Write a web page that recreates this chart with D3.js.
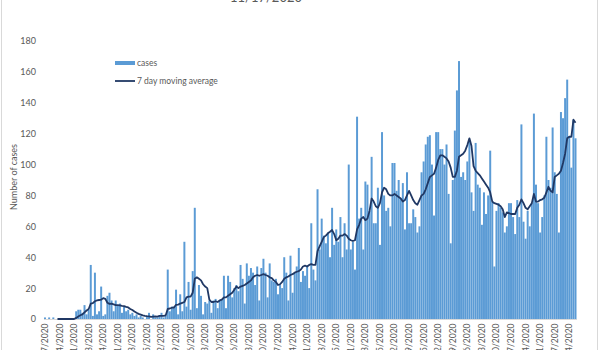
<!DOCTYPE html>
<html>
<head>
<meta charset="utf-8">
<script src="https://cdn.jsdelivr.net/npm/d3@7"></script>
<style>
  html, body { margin: 0; padding: 0; background: #fff; }
  svg { display: block; }
  text { font-family: Lato, "Open Sans", sans-serif; fill: #595959; }
</style>
</head>
<body>
<svg id="chart" width="600" height="350"></svg>
<script>
// ---------- DATA ----------
const titleText = "11/17/2020";
const startDate = "2020-03-07";
const dayCount = 256;

const tickLabels = ["3/7/2020","3/14/2020","3/21/2020","3/28/2020","4/4/2020","4/11/2020","4/18/2020","4/25/2020",
  "5/2/2020","5/9/2020","5/16/2020","5/23/2020","5/30/2020","6/6/2020","6/13/2020","6/20/2020","6/27/2020",
  "7/4/2020","7/11/2020","7/18/2020","7/25/2020","8/1/2020","8/8/2020","8/15/2020","8/22/2020","8/29/2020",
  "9/5/2020","9/12/2020","9/19/2020","9/26/2020","10/3/2020","10/10/2020","10/17/2020","10/24/2020","10/31/2020",
  "11/7/2020","11/14/2020"];

const yTicks = [0,20,40,60,80,100,120,140,160,180];

const cases = [
  1,0,1,0,1,0,0,0,0,0,0,0,0,0,0,
  5,6,6,4,9,3,6,
  35,2,30,3,5,21,2,
  3,15,17,12,5,12,9,
  10,4,8,5,6,3,4,2,3,1,2,
  1,0,2,4,0,3,1,1,2,4,1,
  2,32,5,8,8,19,3,16,
  5,50,8,24,6,31,72,
  7,22,15,3,11,10,12,
  4,12,13,7,12,13,28,7,28,
  24,14,20,22,18,35,26,10,36,28,33,
  30,22,34,12,33,39,30,14,36,25,
  24,26,16,22,20,40,30,12,41,17,
  30,34,46,24,31,28,34,20,62,32,
  25,84,45,65,54,49,56,40,72,48,
  58,50,66,40,62,45,100,45,50,32,
  131,65,72,45,89,87,70,105,62,62,
  85,48,121,80,70,72,60,101,101,83,
  90,78,88,58,95,62,62,71,66,56,
  60,95,102,113,118,119,100,67,121,121,
  110,110,100,113,81,49,90,122,148,167,
  92,95,90,102,115,82,70,114,87,85,
  61,82,68,80,109,76,34,70,75,72,
  69,56,60,75,75,66,55,77,66,126,
  63,52,70,60,75,133,87,75,56,66,
  80,118,90,85,124,95,81,56,134,130,
  143,155,118,98,129,117
];

const movingAvg = [
  null,null,null,null,null,null,
  0,0,0,0,0,0,0,0,0,
  0.7,1.6,2.4,3,4.3,5.5,6.5,10,10.3,11.5,
  12,12.3,12.5,13.5,13,10.5,9.8,10,9.5,9,
  9,8.8,8.5,8.3,7.8,7.5,6.5,5.8,4.8,4,
  3.3,2.8,2.3,2,1.8,1.7,1.4,1.6,1.7,1.6,
  2,2,2,2.3,6.5,6.8,7.3,7.4,9.2,9.3,
  10,10.5,11,14,14.5,14.5,17,26,27,26,
  25,22.5,21,20,12.5,11,11,11.5,11,12,
  12.5,14,14,15,16,17,19,21,20,21,
  21.5,22,23,24,25,27,28,28.5,28,28.5,
  29,28.5,28,27,26.5,25,24,22,22.5,24,
  26,27,27.5,28.5,29,30,30.6,31,32,34,
  34.5,34,35,35.5,35,35,44,47,50,53,
  54,55.5,56.5,57.6,55,51,52,54,54,55,
  54,52,51,50.5,51,58,61,65,66,64,
  65,70,78,76,73,72,75,82,85,84,
  81,80,80,81,80,79,78,76,77,80,
  83,80,77,75,74,77,80,81,84,88,
  92,93,94,98,103,106,106,105,104,102,
  98,92,92,96,105,106,107,109,112.6,117,
  112,99,96,94.5,93,91,89,87,85,82,
  76,75,74.5,74,73,71,66,69,68.5,68,
  68,68,72,74,77.5,75,72,71,73,75,
  81,76,76,77,77.5,78.5,82,85.6,83,82,
  92,93,94,96,101,107,117,118,118,129,127
];

const legendLabels = ["cases", "7 day moving average"];

// ---------- CHART ----------
const svg = d3.select("#chart");
const W = 600, H = 350;
const barColor = "#5B9BD5", lineColor = "#203864";

const start = d3.timeParse("%Y-%m-%d")(startDate);
const dates = d3.range(dayCount).map(i => d3.timeDay.offset(start, i));

svg.append("rect").attr("width", W).attr("height", H).attr("fill", "#fff");
// chart area border (cropped)
svg.append("rect").attr("x", 1.5).attr("y", -20).attr("width", 596).attr("height", 400)
  .attr("fill", "none").attr("stroke", "#d9d9d9").attr("stroke-width", 1);

const x = d3.scaleBand().domain(d3.range(dayCount)).range([44, 576.5]).paddingInner(0.05).paddingOuter(0);
const y = d3.scaleLinear().domain([0, 180]).range([319, 41]);

// title (cropped at top)
svg.append("text").attr("x", 266).attr("y", 2).attr("text-anchor", "middle")
  .style("font-size", "13px").text(titleText);

// bars
svg.append("g").selectAll("rect").data(cases).join("rect")
  .attr("x", (d, i) => x(i))
  .attr("width", x.bandwidth())
  .attr("y", d => y(d))
  .attr("height", d => y(0) - y(d))
  .attr("fill", barColor);

// y axis
const yAxis = svg.append("g").attr("transform", "translate(44,0)")
  .call(d3.axisLeft(y).tickValues(yTicks).tickSize(0).tickPadding(8));
yAxis.select(".domain").remove();
yAxis.selectAll("text").style("font-size", "9px").style("font-family", "Lato, sans-serif").attr("fill", "#595959");

// x axis
const tickIdx = d3.range(0, dayCount, 7);
const xAxis = svg.append("g").attr("transform", "translate(0,319.5)")
  .call(d3.axisBottom(x).tickValues(tickIdx).tickSize(0).tickFormat(i => tickLabels[i / 7]));
xAxis.select(".domain").attr("stroke", "#d9d9d9").attr("d", "M44,0H577");
xAxis.selectAll("text")
  .style("font-size", "8.5px").style("font-family", "Lato, sans-serif").attr("fill", "#595959")
  .attr("text-anchor", "end")
  .attr("transform", "rotate(-90)")
  .attr("x", -4).attr("y", 0).attr("dy", "0.35em");

// moving average line
const line = d3.line()
  .defined(d => d != null)
  .x((d, i) => x(i) + x.bandwidth() / 2)
  .y(d => y(d));
svg.append("path").datum(movingAvg)
  .attr("d", line).attr("fill", "none")
  .attr("stroke", lineColor).attr("stroke-width", 1.8).attr("stroke-linejoin", "round");

// y axis title
svg.append("text").attr("transform", "translate(14,177) rotate(-90)")
  .attr("text-anchor", "middle").attr("dy", "0.35em")
  .style("font-size", "9px").text("Number of cases");

// legend
const lg = svg.append("g");
lg.append("rect").attr("x", 115).attr("y", 61).attr("width", 20).attr("height", 4).attr("fill", barColor);
lg.append("text").attr("x", 137).attr("y", 63).attr("dy", "0.35em").style("font-size", "8.5px").text(legendLabels[0]);
lg.append("line").attr("x1", 115).attr("x2", 135).attr("y1", 81).attr("y2", 81)
  .attr("stroke", lineColor).attr("stroke-width", 1.8);
lg.append("text").attr("x", 137).attr("y", 81).attr("dy", "0.35em").style("font-size", "8.5px").text(legendLabels[1]);
</script>
</body>
</html>
